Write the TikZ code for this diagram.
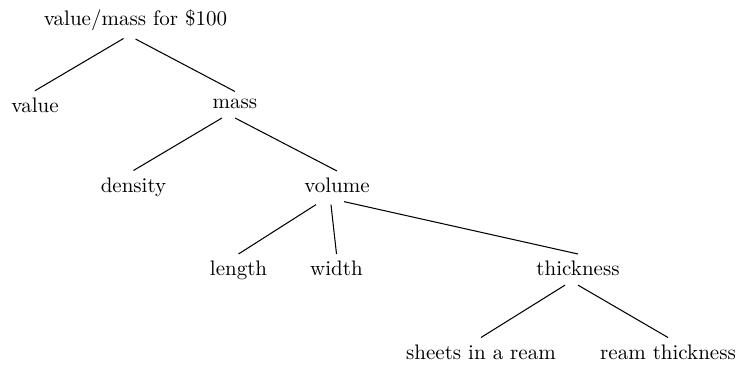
\documentclass[tikz,border=0pt]{standalone}
\usetikzlibrary{calc}
\begin{document}
\begin{tikzpicture}[x=0.47619pt,y=-0.47619pt,
  lbl/.style={inner sep=3.33pt, anchor=north},
  edge/.style={line width=0.5pt}]
\useasboundingbox (0,0) rectangle (736,369);
\node[inner sep=3.33pt, anchor=south] (root) at (135.5,38.5) {value/mass for \$100};
\node[lbl] (value) at (35,90.7) {value};
\node[lbl] (mass) at (235,91.5) {mass};
\node[lbl] (density) at (133.5,170.5) {density};
\node[lbl] (volume) at (337,171) {volume};
\node[lbl] (length) at (238.5,254) {length};
\node[lbl] (width) at (336.5,254) {width};
\node[lbl] (thickness) at (578,254) {thickness};
\node[lbl] (sheets) at (481,337.5) {sheets in a ream};
\node[lbl] (ream) at (668,337.5) {ream thickness};
\draw[edge] ($(root.south)+(-12,0)$) -- (value.north);
\draw[edge] ($(root.south)+(0,0.5)$) -- (mass.north);
\draw[edge] ($(mass.south)+(-13,2)$) -- (density.north);
\draw[edge] ($(mass.south)+(0,2)$) -- (volume.north);
\draw[edge] ($(volume.south)+(-21,4)$) -- (length.north);
\draw[edge] ($(volume.south)+(-6,4)$) -- (width.north);
\draw[edge] ($(volume.south)+(7,1)$) -- (thickness.north);
\draw[edge] ($(thickness.south)+(-13,1.5)$) -- (sheets.north);
\draw[edge] ($(thickness.south)+(0,1.5)$) -- (ream.north);
\end{tikzpicture}
\end{document}
